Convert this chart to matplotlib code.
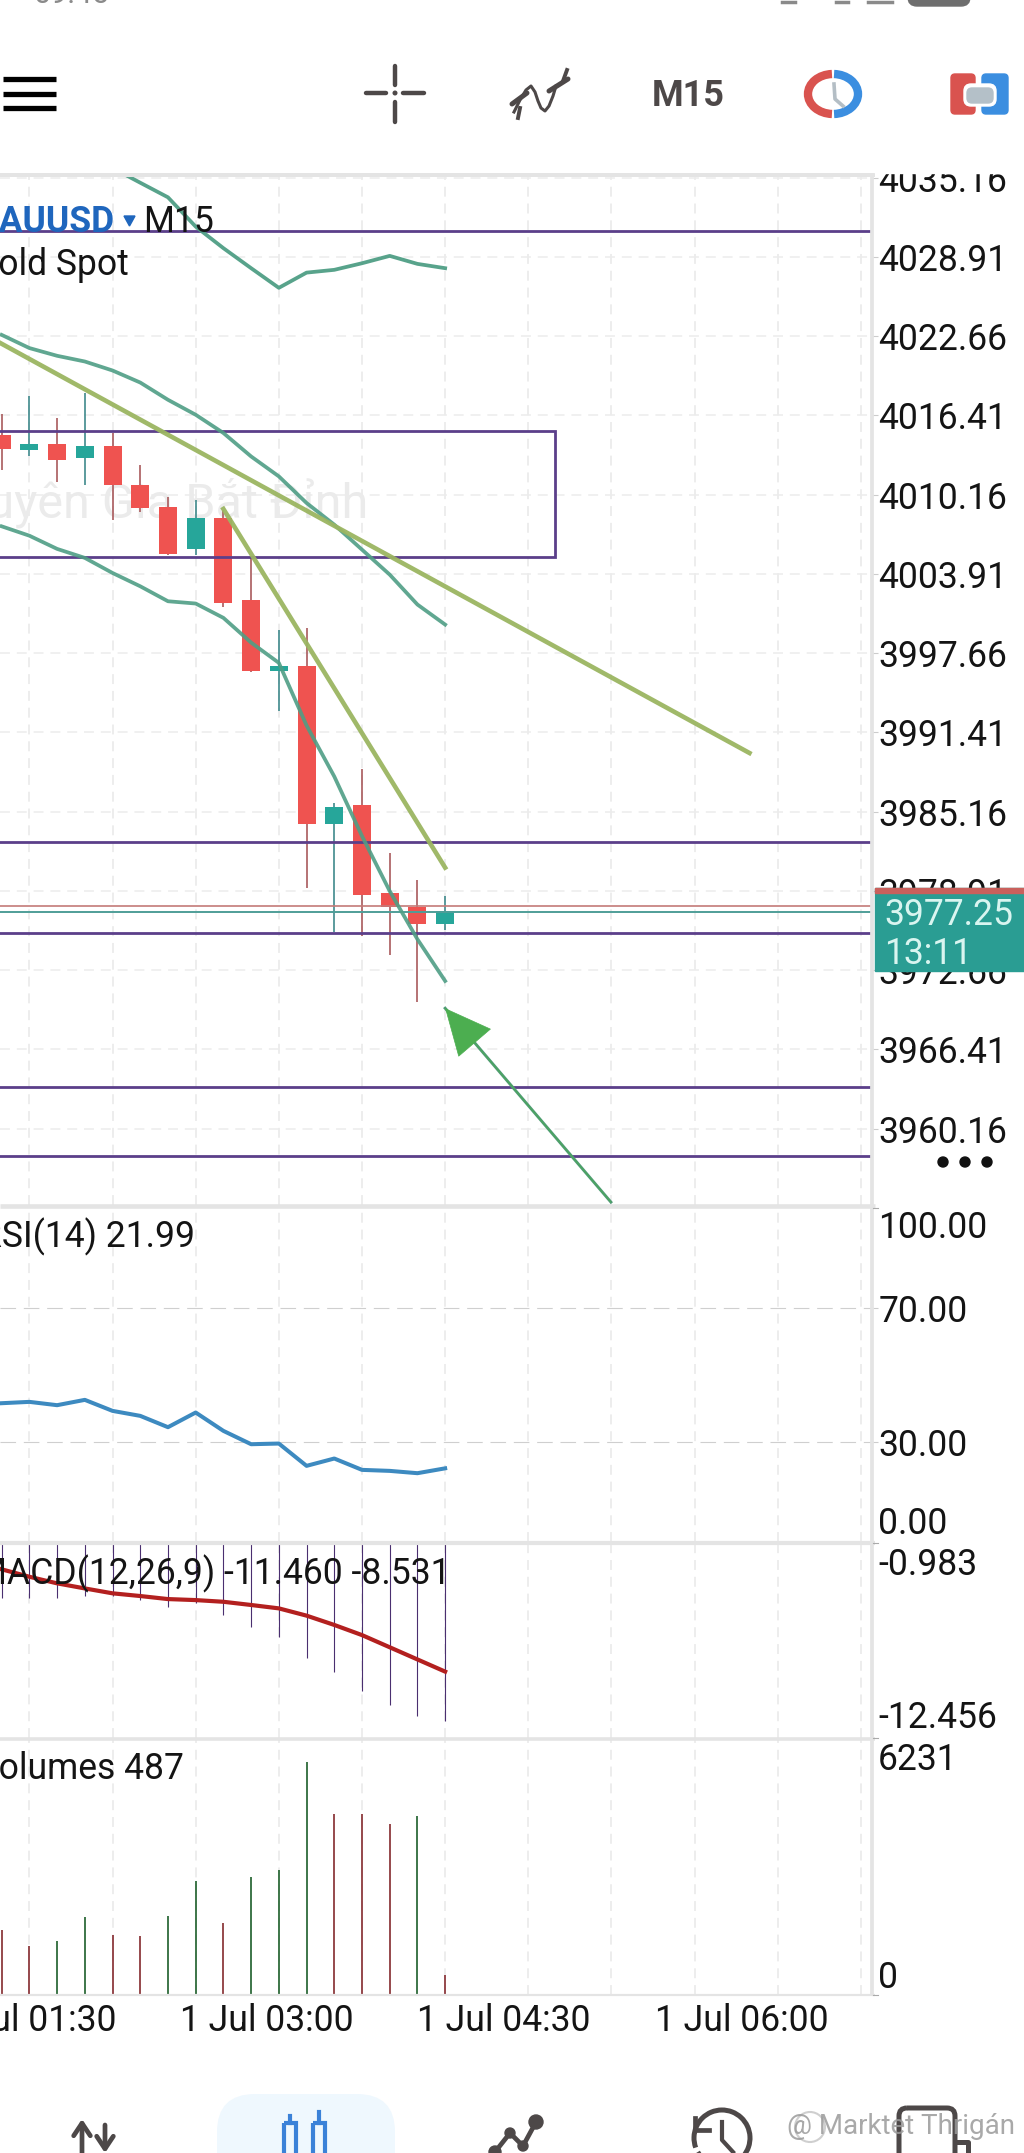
import matplotlib
matplotlib.use('Agg')
import matplotlib.pyplot as plt
from matplotlib.patches import Rectangle, FancyBboxPatch, Arc, Circle

W = 1024
H = 2153

# M15 candles, oldest first
opens = [4014.88, 4013.65, 4014.17, 4013.02, 4014.02, 4010.94, 4009.19, 4005.88, 4008.32,
         4001.88, 3996.23, 3996.68, 3984.21, 3985.65, 3978.71, 3977.66, 3976.33]
highs = [4016.54, 4017.90, 4016.20, 4018.17, 4015.06, 4012.46, 4009.97, 4009.71, 4008.97,
         4005.29, 3999.46, 3999.65, 3985.86, 3988.48, 3981.87, 3979.74, 3978.50]
lows = [4012.13, 4013.17, 4011.12, 4010.94, 4008.13, 4008.76, 4005.40, 4005.40, 4001.31,
        3996.20, 3993.08, 3979.16, 3975.66, 3975.35, 3973.85, 3970.15, 3975.82]
closes = [4013.76, 4014.17, 4012.91, 4014.02, 4010.89, 4009.08, 4005.51, 4008.32, 4001.62,
          3996.23, 3996.68, 3984.21, 3985.55, 3978.58, 3977.66, 3976.33, 3977.32]

# bollinger bands
bb_upper_x = [4, 5, 6, 7, 8, 9, 10, 11, 12, 13, 14, 15, 16]
bb_upper = [4035.92, 4034.76, 4033.61, 4031.30, 4029.60, 4028.02, 4026.47, 4027.67, 4027.89,
            4028.41, 4028.99, 4028.36, 4028.02]
bb_mid = [4022.76, 4021.72, 4021.11, 4020.66, 4019.95, 4019.00, 4017.64, 4016.46, 4015.02,
          4013.17, 4011.60, 4009.50, 4007.79, 4005.82, 4003.85, 4001.49, 3999.91]
bb_lower = [4007.66, 4006.92, 4005.88, 4005.17, 4003.98, 4002.93, 4001.75, 4001.57, 4000.44,
            3998.49, 3996.89, 3991.95, 3987.93, 3983.23, 3978.89, 3975.09, 3971.80]

# drawn objects on the price panel
levels = [4030.96, 3982.79, 3975.62, 3963.40, 3957.96]
zone_x = [-5, 19.95]
zone_y = [4005.25, 4015.20]
trend1_x = [-0.06, 26.98]
trend1_y = [4022.13, 3989.78]
trend2_x = [8.0, 16.0]
trend2_y = [4009.03, 3980.74]
arrow_from = (21.98, 3954.36)
arrow_to = (16.0, 3969.65)
bid = 3977.25
ask = 3977.71

price_ticks = [4035.16, 4028.91, 4022.66, 4016.41, 4010.16, 4003.91, 3997.66, 3991.41, 3985.16,
               3978.91, 3972.66, 3966.41, 3960.16]

rsi = [41.43, 41.83, 40.84, 42.43, 39.14, 37.65, 34.27, 38.65, 33.17, 29.19, 29.39, 22.73,
       24.92, 21.53, 21.23, 20.54, 21.99]
macd_hist = [-4.20, -4.20, -4.20, -4.06, -4.06, -4.30, -4.73, -4.45, -5.18, -5.91, -6.50,
             -7.71, -8.54, -9.68, -10.51, -11.14, -11.46]
macd_signal = [-2.48, -2.92, -3.31, -3.61, -3.90, -4.06, -4.24, -4.30, -4.40, -4.59, -4.79,
               -5.22, -5.77, -6.37, -7.09, -7.81, -8.53]
volumes = [1586, 1196, 1318, 1911, 1464, 1440, 1928, 2782, 1765, 2887, 3066, 5693, 4416, 4416,
           4172, 4368, 487]
vol_up = [0, 0, 1, 1, 0, 0, 1, 1, 0, 1, 1, 1, 0, 0, 0, 1, 0]

time_ticks = [1.0, 9.55, 18.1, 26.7]
time_labels = ['1 Jul 01:30', '1 Jul 03:00', '1 Jul 04:30', '1 Jul 06:00']
grid_bars = [1, 4, 7, 10, 13, 16, 19, 22, 25, 28, 31]

RED = '#ef5350'
TEAL = '#26a69a'
RED_WICK = '#a95a5c'
TEAL_WICK = '#3f8a8c'
PURPLE = '#5b3f8a'
BAND = '#4f9e85'
OLIVE = '#9bb561'
GREY = '#e4e4e4'
ICON = '#4d4848'
TEXT = '#141414'
FS = 25.6

plt.rcParams['font.family'] = ['Roboto', 'DejaVu Sans']
fig = plt.figure(figsize=(W / 100, H / 100), dpi=100, facecolor='white')
bars = list(range(len(closes)))
xlim = (-0.06, 31.4)


def panel(top, bottom, ylim):
	ax = fig.add_axes([0, 1 - bottom / H, 872 / W, (bottom - top) / H], zorder=1)
	ax.set_xlim(xlim)
	ax.set_ylim(ylim)
	ax.patch.set_alpha(0)
	for s in ax.spines.values():
		s.set_visible(False)
	ax.set_xticks(grid_bars)
	ax.set_xticklabels([])
	ax.tick_params(axis='x', length=0)
	ax.tick_params(axis='y', length=0, labelleft=False)
	ax.grid(axis='x', color='#e8e8e8', lw=1.1, ls=(0, (6.5, 4.5)), zorder=0)
	ax.set_axisbelow(True)
	return ax


# price panel
ax = panel(175, 1205, (3954.13, 4035.37))
ax.yaxis.tick_right()
ax.set_yticks(price_ticks)
ax.set_yticklabels(['%.2f' % p for p in price_ticks], fontsize=FS, color=TEXT)
ax.tick_params(axis='y', length=4, width=0.8, color='#cccccc', pad=0.5, labelright=True)
ax.grid(axis='y', color='#ececec', lw=1.1, ls=(0, (6.5, 4.5)))

ax.text(13.24, 4009.55, 'Chuyên Gia Bắt Đỉnh', fontsize=35, color='#ebebeb', ha='right', va='center', zorder=1)

for i in bars:
	up = closes[i] >= opens[i]
	ax.vlines(i, lows[i], highs[i], color=TEAL_WICK if up else RED_WICK, lw=1.2, zorder=2)
	ax.bar(i, abs(closes[i] - opens[i]), bottom=min(opens[i], closes[i]), width=0.65,
	       color=TEAL if up else RED, zorder=2.5)

for lv in levels:
	ax.axhline(lv, color=PURPLE, lw=2.0, zorder=3)
ax.add_patch(Rectangle((zone_x[0], zone_y[0]), zone_x[1] - zone_x[0], zone_y[1] - zone_y[0],
                       fill=False, ec=PURPLE, lw=2.0, zorder=3))
ax.axhline(ask, color='#c47a78', lw=1.2, zorder=3)
ax.axhline(bid, color='#4f9e98', lw=1.4, zorder=3)

ax.plot(bb_upper_x, bb_upper, color=BAND, lw=2.7, alpha=0.95, zorder=4)
ax.plot(bars, bb_mid, color=BAND, lw=2.7, alpha=0.9, zorder=4)
ax.plot(bars, bb_lower, color=BAND, lw=2.7, alpha=0.9, zorder=4)
ax.plot(trend1_x, trend1_y, color=OLIVE, lw=3.3, alpha=0.95, zorder=4)
ax.plot(trend2_x, trend2_y, color=OLIVE, lw=3.3, alpha=0.95, zorder=4)
ax.plot([arrow_from[0], arrow_to[0]], [arrow_from[1], arrow_to[1]], color='#4f9a75', lw=2.1, zorder=4)
ax.annotate('', xy=arrow_to, xytext=arrow_from, zorder=4,
            arrowprops=dict(arrowstyle='-|>,head_length=32,head_width=15', mutation_scale=1,
                            color='#4cae50', lw=0.5, shrinkA=0, shrinkB=0))

# RSI panel
ax_rsi = panel(1207, 1542, (0, 100))
ax_rsi.yaxis.tick_right()
ax_rsi.set_yticks([70, 30])
ax_rsi.set_yticklabels(['70.00', '30.00'], fontsize=FS, color=TEXT)
ax_rsi.tick_params(axis='y', length=4, width=0.8, color='#cccccc', pad=0.5, labelright=True)
ax_rsi.grid(axis='y', color='#cfcfcf', lw=0.8, ls=(0, (14, 7)))
ax_rsi.plot(bars, rsi, color='#3d8ac0', lw=2.9, zorder=3)

# MACD panel
ax_macd = panel(1544, 1738, (-12.456, -0.983))
ax_macd.vlines(bars, 0, macd_hist, color='#4a2f70', lw=0.8, zorder=2)
ax_macd.plot(bars, macd_signal, color='#b3201f', lw=3.0, zorder=3)

# volume panel
ax_vol = panel(1740, 1995, (0, 6231))
ax_vol.vlines(bars, 0, volumes, colors=['#2e6b3a' if u else '#8e3a3e' for u in vol_up], lw=1.3, zorder=2)
for t, s in zip(time_ticks, time_labels):
	ax_vol.text(t, -0.102, s, fontsize=FS, color=TEXT, ha='center', va='center',
	            transform=ax_vol.get_xaxis_transform())

# screen furniture, in pixels
ui = fig.add_axes([0, 0, 1, 1], zorder=5)
ui.set_xlim(0, W)
ui.set_ylim(H, 0)
ui.axis('off')
ui.patch.set_alpha(0)

# separators and axis rails
for y, lw in [(175, 4), (1206, 4.6), (1543, 4.2), (1739, 3.6), (1995, 2.2)]:
	ui.plot([0, 875], [y, y], color=GREY, lw=lw * 0.72, solid_capstyle='butt')
ui.plot([872, 872], [175, 1995], color=GREY, lw=2.7, solid_capstyle='butt')
for y in [1208, 1543, 1738, 1995]:
	ui.plot([873, 878], [y, y], color='#aaaaaa', lw=0.8)
ui.add_patch(Rectangle((875, 150), 149, 22.5, color='white', zorder=2))

# bid box
ui.add_patch(Rectangle((875, 888), 149, 83, color='#2a9d93', zorder=3))
ui.add_patch(Rectangle((875, 888), 149, 5, color='#c9605c', zorder=3))
ui.text(884, 915, '3977.25', fontsize=FS, color='#d9f5f0', va='center', zorder=4)
ui.text(884, 954, '13:11', fontsize=FS, color='#d9f5f0', va='center', zorder=4)
for x in [943, 965, 987]:
	ui.add_patch(Circle((x, 1162), 5, color='#111111'))

# clamped axis labels
for y, s in [(1228, '100.00'), (1524.5, '0.00'), (1565, '-0.983'), (1718.5, '-12.456'), (1759.5, '6231'), (1978, '0')]:
	ui.text(878, y, s, fontsize=FS, color=TEXT, va='center')

# legends
ui.text(115, 222, 'XAUUSD', fontsize=FS, fontweight='bold', color='#1f66bd', ha='right', va='center')
ui.fill([124, 135, 129.5], [216, 216, 226], color='#1f66bd')
ui.text(143, 222, 'M15', fontsize=FS, color=TEXT, va='center')
ui.text(129, 265, 'Gold Spot', fontsize=FS, color=TEXT, ha='right', va='center')
ui.text(195, 1237, 'RSI(14) 21.99', fontsize=FS, color=TEXT, ha='right', va='center')
ui.text(450, 1574, 'MACD(12,26,9) -11.460 -8.531', fontsize=FS, color=TEXT, ha='right', va='center')
ui.text(184, 1769, 'Volumes 487', fontsize=FS, color=TEXT, ha='right', va='center')

# status bar, cut off by the crop
ui.text(33, 3, '09:45', fontsize=22, color='#8a8a8a', va='baseline')
ui.add_patch(FancyBboxPatch((908, -20), 62, 26, boxstyle='round,pad=0,rounding_size=9', color='#6e6e6e'))
for x0, x1 in [(782, 795), (836, 848), (868, 892)]:
	ui.plot([x0, x1], [1.5, 1.5], color='#8a8a8a', lw=2.5)

# top toolbar
for y in [79, 94, 108]:
	ui.plot([3, 56], [y, y], color='black', lw=3.8, solid_capstyle='butt')
for p, q in [((366, 93), (386, 93)), ((403, 93), (424, 93)), ((395, 66), (395, 85)), ((395, 102), (395, 122))]:
	ui.plot([p[0], q[0]], [p[1], q[1]], color=ICON, lw=3.2, solid_capstyle='round')
ui.add_patch(Circle((395, 93), 1.8, color=ICON))
ui.plot([514, 520, 526, 531, 535, 538, 541, 545, 549, 553, 556], [112, 100, 90, 86, 92, 101, 108, 111, 106, 96, 86], color=ICON, lw=2.2)
ui.plot([512, 527], [104, 93], color=ICON, lw=3.6, solid_capstyle='round')
ui.plot([549, 568], [91, 79], color=ICON, lw=3.6, solid_capstyle='round')
ui.plot([518, 520], [118, 108], color=ICON, lw=2.8)
ui.plot([563, 567], [81, 70], color=ICON, lw=2.8)
ui.text(688, 96, 'M15', fontsize=26, fontweight='bold', color=ICON, ha='center', va='center')
ui.add_patch(Arc((833, 94), 50, 40, theta1=93, theta2=267, color='#d9534f', lw=6))
ui.add_patch(Arc((833, 94), 50, 40, theta1=-87, theta2=87, color='#3b8ee0', lw=6))
ui.plot([834, 835, 843], [84, 99, 106], color='#b4bec5', lw=2.6)
ui.add_patch(FancyBboxPatch((951, 74), 24, 40, boxstyle='round,pad=0,rounding_size=4', color='#d9534f'))
ui.add_patch(FancyBboxPatch((982, 74), 26, 40, boxstyle='round,pad=0,rounding_size=4', color='#3b8ee0'))
ui.add_patch(Rectangle((975, 85), 7, 18, color='white'))
ui.add_patch(FancyBboxPatch((964, 84), 32, 22, boxstyle='round,pad=0,rounding_size=7', color='white'))
ui.add_patch(FancyBboxPatch((967, 88), 26, 15, boxstyle='round,pad=0,rounding_size=5', color='#b4c0c8'))

# bottom nav
ui.add_patch(FancyBboxPatch((217, 2094), 178, 110, boxstyle='round,pad=0,rounding_size=38', color='#eff8fe', lw=0))
for x, y0, y1 in [(82, 2153, 2119), (105, 2125, 2153)]:
	ui.annotate('', xy=(x, y1), xytext=(x, y0),
	            arrowprops=dict(arrowstyle='->,head_length=9,head_width=6', mutation_scale=1, color=ICON, lw=3.4, shrinkA=0, shrinkB=0))
for x, y0 in [(290, 2123), (319, 2123)]:
	ui.add_patch(Rectangle((x - 6, y0), 12, 40, fill=False, ec='#3b82d8', lw=3))
ui.plot([290, 290], [2116, 2123], color='#3b82d8', lw=3)
ui.plot([319, 319], [2112, 2123], color='#3b82d8', lw=3)
ui.plot([495, 510, 523, 536], [2152, 2133, 2146, 2122], color=ICON, lw=3.4)
for x, y, r in [(536, 2122, 7), (510, 2133, 5), (523, 2146, 5), (495, 2152, 6)]:
	ui.add_patch(Circle((x, y), r, color=ICON))
ui.add_patch(Arc((722, 2138), 56, 56, theta1=-200, theta2=150, color=ICON, lw=3.6))
ui.plot([695, 695, 709], [2118, 2130, 2130], color=ICON, lw=3.4)
ui.plot([722, 722, 733], [2122, 2140, 2152], color=ICON, lw=3)
ui.add_patch(FancyBboxPatch((899, 2108), 56, 70, boxstyle='round,pad=0,rounding_size=8', fill=False, ec=ICON, lw=3.6))
ui.plot([955, 968, 968], [2142, 2142, 2153], color=ICON, lw=3.6)

# source watermark
ui.add_patch(Circle((810, 2127), 15, fill=False, ec='#cfcfcf', lw=1.5))
ui.text(1015, 2127, '@ Marktet Thrigán', fontsize=20, color='#9a9a9a', alpha=0.85, ha='right', va='center', zorder=6)

fig.savefig('out.png', dpi=100)
